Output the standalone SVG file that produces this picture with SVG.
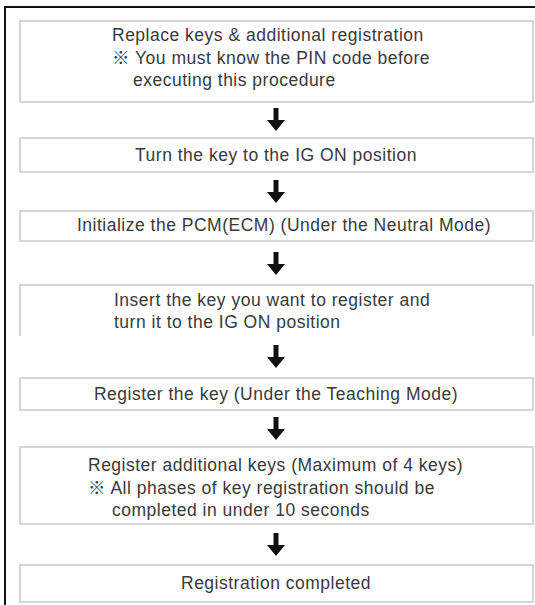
<svg xmlns="http://www.w3.org/2000/svg" xmlns:xlink="http://www.w3.org/1999/xlink" width="535" height="605" viewBox="0 0 535 605">
<style>
.box{fill:#fff;stroke:#c8c8c8;stroke-width:1.5}
.t{font-family:"Liberation Sans",Arial,"Noto Sans CJK KR",sans-serif;font-size:17.5px;letter-spacing:0.5px;fill:#3a3a3a}
.c{text-anchor:middle}
.arr{fill:#111}
</style>
<defs>
<path id="arrow" d="M-2.5,0 H2.5 V12 H9 L0,23 L-9,12 H-2.5 Z"/>
</defs>
<rect width="535" height="605" fill="#fff"/>
<path d="M5,605 V7 H535" fill="none" stroke="#111" stroke-width="2"/>
<g id="n1">
<rect class="box" x="20" y="21" width="513" height="81"/>
<text class="t" x="112" y="41">Replace keys &amp; additional registration</text>
<text class="t" x="112" y="64">※ You must know the PIN code before</text>
<text class="t" x="133" y="86">executing this procedure</text>
</g>
<g id="n2">
<rect class="box" x="20" y="138" width="513" height="34"/>
<text class="t c" x="276" y="161">Turn the key to the IG ON position</text>
</g>
<g id="n3">
<rect class="box" x="20" y="211" width="513" height="30"/>
<text class="t c" x="284" y="231">Initialize the PCM(ECM) (Under the Neutral Mode)</text>
</g>
<g id="n4">
<path class="box" d="M20,336 V285 H533 V336"/>
<text class="t" x="114" y="306">Insert the key you want to register and</text>
<text class="t" x="114" y="328">turn it to the IG ON position</text>
</g>
<g id="n5">
<rect class="box" x="20" y="378" width="513" height="32"/>
<text class="t c" x="276" y="400">Register the key (Under the Teaching Mode)</text>
</g>
<g id="n6">
<rect class="box" x="20" y="447" width="513" height="77"/>
<text class="t" x="88" y="471">Register additional keys (Maximum of 4 keys)</text>
<text class="t" x="88" y="494">※ All phases of key registration should be</text>
<text class="t" x="112" y="516">completed in under 10 seconds</text>
</g>
<g id="n7">
<rect class="box" x="20" y="565" width="513" height="37"/>
<text class="t c" x="276" y="589">Registration completed</text>
</g>
<g id="connectors" class="arr">
<use xlink:href="#arrow" x="276" y="108"/>
<use xlink:href="#arrow" x="276" y="180"/>
<use xlink:href="#arrow" x="276" y="252"/>
<use xlink:href="#arrow" x="276" y="345"/>
<use xlink:href="#arrow" x="276" y="417"/>
<use xlink:href="#arrow" x="276" y="533"/>
</g>
</svg>
